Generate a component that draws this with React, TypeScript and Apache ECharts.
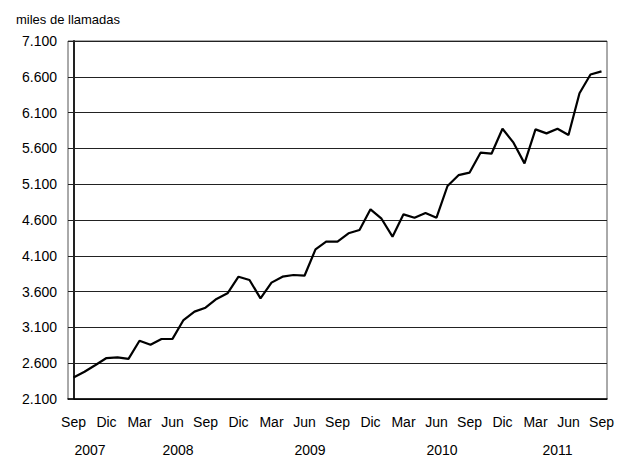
import React, { useEffect, useRef } from "react";
import * as echarts from "echarts";

const monthNames = ["Sep", "Oct", "Nov", "Dic", "Ene", "Feb", "Mar", "Abr", "May", "Jun", "Jul", "Ago"];
const startYear = 2007;
const months: string[] = Array.from({ length: 49 }, (_, i) => monthNames[i % 12] + " " + (startYear + Math.floor((i + 8) / 12)));

const values = [
  2400, 2480, 2575, 2672, 2682, 2660, 2914, 2858, 2938, 2940, 3203, 3320,
  3375, 3497, 3576, 3808, 3762, 3506, 3725, 3808, 3832, 3822, 4189, 4300,
  4298, 4414, 4460, 4749, 4618, 4367, 4679, 4632, 4698, 4632, 5075, 5226,
  5261, 5540, 5526, 5875, 5680, 5391, 5866, 5810, 5875, 5787, 6370, 6632,
  6676,
];

const yearLabels = ["2007", "2008", "2009", "2010", "2011"];
const yearCenters = [1.5, 9.5, 21.5, 33.5, 44];

const yMin = 2100;
const yMax = 7100;
const yStep = 500;

const font = "'Liberation Sans', Arial, sans-serif";

function fmt(v: number): string {
  const th = Math.floor(v / 1000);
  const rest = Math.round(v % 1000);
  return th + "." + String(rest).padStart(3, "0");
}

export default function App() {
  const ref = useRef<HTMLDivElement>(null);
  useEffect(() => {
    document.body.style.margin = "0";
    if (!ref.current) return;
    const chart = echarts.init(ref.current, undefined, { renderer: "svg" });
    chart.setOption({
      animation: false,
      backgroundColor: "#fff",
      textStyle: { fontFamily: font },
      title: {
        text: "miles de llamadas",
        left: 11,
        top: 8,
        textStyle: { fontSize: 13, fontWeight: "normal", color: "#000", fontFamily: font },
      },
      grid: {
        left: 68,
        right: 15,
        top: 41,
        bottom: 58,
        show: true,
        borderColor: "#555",
        borderWidth: 1,
        backgroundColor: "transparent",
      },
      xAxis: [
        {
          type: "category",
          data: months,
          boundaryGap: true,
          axisLine: { show: true, lineStyle: { color: "#000", width: 1.5 } },
          axisTick: { show: false },
          axisLabel: {
            interval: 2,
            margin: 16,
            fontSize: 14,
            color: "#000",
            fontFamily: font,
            formatter: (v: string) => v.split(" ")[0],
          },
          splitLine: { show: false },
        },
        {
          type: "value",
          position: "bottom",
          offset: 28,
          min: -0.5,
          max: 48.5,
          interval: 0.5,
          axisLine: { show: false },
          axisTick: { show: false },
          splitLine: { show: false },
          axisLabel: {
            margin: 16,
            fontSize: 14,
            color: "#000",
            fontFamily: font,
            showMinLabel: true,
            showMaxLabel: true,
            formatter: (v: number) => {
              const r = Math.round(v * 2) / 2;
              const idx = yearCenters.indexOf(r);
              return idx >= 0 ? yearLabels[idx] : "";
            },
          },
        },
      ],
      yAxis: {
        type: "value",
        min: yMin,
        max: yMax,
        interval: yStep,
        axisLine: { show: true, lineStyle: { color: "#222", width: 2 } },
        axisTick: { show: true, inside: false, length: 5, lineStyle: { color: "#222" } },
        axisLabel: {
          margin: 11,
          fontSize: 14,
          color: "#000",
          fontFamily: font,
          formatter: (v: number) => fmt(v),
        },
        splitLine: { show: true, lineStyle: { color: "#222", width: 1 } },
      },
      series: [
        {
          type: "line",
          data: values,
          xAxisIndex: 0,
          showSymbol: false,
          symbol: "none",
          lineStyle: { color: "#000", width: 2.2 },
          itemStyle: { color: "#000" },
        },
      ],
    });
    return () => chart.dispose();
  }, []);
  return <div ref={ref} style={{ width: 622, height: 457 }} />;
}
